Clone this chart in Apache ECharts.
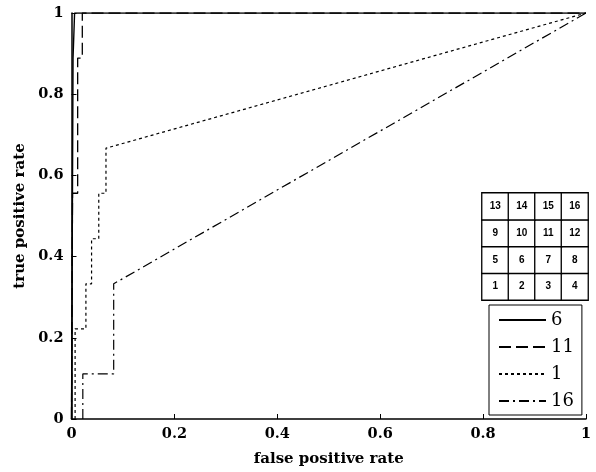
<!DOCTYPE html>
<html>
<head>
<meta charset="utf-8">
<script src="https://cdn.jsdelivr.net/npm/echarts@6/dist/echarts.min.js"></script>
<style>
  html, body { margin: 0; padding: 0; background: #fff; }
  #main { width: 596px; height: 472px; }
</style>
</head>
<body>
<div id="main"></div>
<script>
// ROC curves (false positive rate / true positive rate)
const fpr6  = [0, 0.003, 0.003, 0.006, 0.006, 1];
const tpr6  = [0, 0, 0.889, 0.889, 1, 1];
const fpr11 = [0, 0.002, 0.002, 0.012, 0.012, 0.021, 0.021, 1];
const tpr11 = [0, 0, 0.556, 0.556, 0.889, 0.889, 1, 1];
const fpr1  = [0.007, 0.007, 0.028, 0.028, 0.039, 0.039, 0.053, 0.053, 0.067, 0.067, 1];
const tpr1  = [0, 0.222, 0.222, 0.333, 0.333, 0.444, 0.444, 0.556, 0.556, 0.667, 1];
const fpr16 = [0.022, 0.022, 0.082, 0.082, 1];
const tpr16 = [0, 0.111, 0.111, 0.333, 1];
const seriesNames = ["6", "11", "1", "16"];

// inset: 4x4 block numbering
const blockCols = ["c1", "c2", "c3", "c4"];
const blockRows = ["r4", "r3", "r2", "r1"];   // bottom to top
const blockNumbers = [
  [1, 2, 3, 4],
  [5, 6, 7, 8],
  [9, 10, 11, 12],
  [13, 14, 15, 16]
];

const pairs = (xs, ys) => xs.map((x, i) => [x, ys[i]]);
const serif = "DejaVu Serif";

let blockData = [];
blockNumbers.forEach((row, r) => row.forEach((n, c) => blockData.push([c, r, n])));

let chart = echarts.init(document.getElementById("main"), null, { renderer: "canvas" });
chart.setOption({
  backgroundColor: "#fff",
  animation: false,
  grid: [
    { left: 71.5, right: 10, top: 13, bottom: 52 },
    { left: 482, top: 193, width: 106, height: 107 }
  ],
  legend: {
    data: seriesNames,
    orient: "vertical",
    left: 489,
    top: 305,
    itemWidth: 47,
    itemHeight: 14,
    itemGap: 9,
    padding: [6, 8, 5, 9],
    borderColor: "#000",
    borderWidth: 1,
    backgroundColor: "#fff",
    itemStyle: { opacity: 0 },
    textStyle: { fontFamily: serif, fontSize: 18, color: "#000" }
  },
  xAxis: [
    {
      gridIndex: 0,
      type: "value",
      min: 0, max: 1, interval: 0.2,
      name: "false positive rate",
      nameLocation: "middle",
      nameGap: 33,
      nameTextStyle: { fontFamily: serif, fontWeight: "bold", fontSize: 15, color: "#000" },
      axisLine: { lineStyle: { color: "#000", width: 1.5 } },
      axisTick: { inside: true, length: 5, lineStyle: { color: "#000" } },
      axisLabel: { fontFamily: serif, fontWeight: "bold", fontSize: 14.5, color: "#000", margin: 8 },
      splitLine: { show: false }
    },
    { gridIndex: 1, type: "category", data: blockCols, show: false }
  ],
  yAxis: [
    {
      gridIndex: 0,
      type: "value",
      min: 0, max: 1, interval: 0.2,
      name: "true positive rate",
      nameLocation: "middle",
      nameGap: 42,
      nameTextStyle: { fontFamily: serif, fontWeight: "bold", fontSize: 15, color: "#000" },
      axisLine: { show: true, lineStyle: { color: "#000", width: 1.5 } },
      axisTick: { show: true, inside: true, length: 5, lineStyle: { color: "#000" } },
      axisLabel: { fontFamily: serif, fontWeight: "bold", fontSize: 14.5, color: "#000", margin: 8 },
      splitLine: { show: false }
    },
    { gridIndex: 1, type: "category", data: blockRows, show: false }
  ],
  series: [
    {
      name: "6", type: "line", symbol: "none",
      data: pairs(fpr6, tpr6),
      lineStyle: { color: "#000", width: 1.4, type: "solid" },
      itemStyle: { color: "#000" }
    },
    {
      name: "11", type: "line", symbol: "none",
      data: pairs(fpr11, tpr11),
      lineStyle: { color: "#000", width: 1.3, type: [12, 5] },
      itemStyle: { color: "#000" }
    },
    {
      name: "1", type: "line", symbol: "none",
      data: pairs(fpr1, tpr1),
      lineStyle: { color: "#000", width: 1.2, type: [3, 3] },
      itemStyle: { color: "#000" }
    },
    {
      name: "16", type: "line", symbol: "none",
      data: pairs(fpr16, tpr16),
      lineStyle: { color: "#000", width: 1.2, type: [10, 4, 2, 4] },
      itemStyle: { color: "#000" }
    },
    {
      type: "heatmap",
      xAxisIndex: 1, yAxisIndex: 1,
      data: blockData,
      itemStyle: { color: "#fff", borderColor: "#000", borderWidth: 1.3 },
      label: {
        show: true,
        formatter: p => p.data[2],
        fontFamily: "Liberation Sans",
        fontWeight: "bold",
        fontSize: 10,
        color: "#000"
      },
      emphasis: { disabled: true }
    }
  ]
});
</script>
</body>
</html>
